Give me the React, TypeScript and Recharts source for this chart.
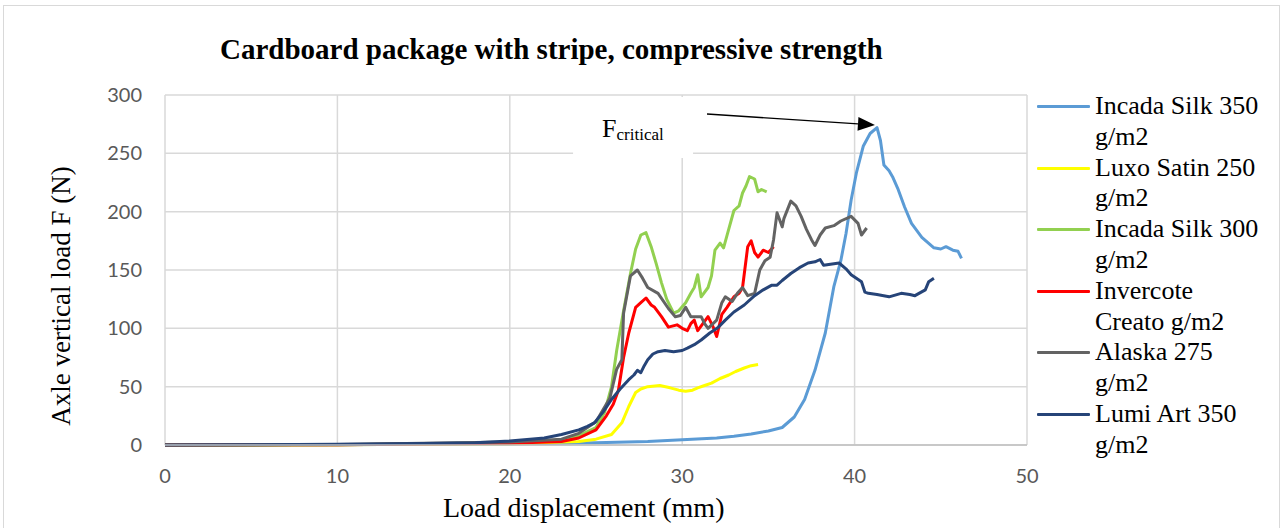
import React from "react";
import {
  LineChart,
  Line,
  XAxis,
  YAxis,
  CartesianGrid,
  ReferenceArea,
  ReferenceLine,
} from "recharts";

// displacement (mm), load (N)
const incadaSilk350: [number, number][] = [
  [0, 0], [10, 0.3], [20, 1], [25, 2], [28, 3], [30, 4.5], [32, 6], [33, 7.5],
  [34, 9.5], [35, 12], [35.8, 15], [36.5, 24], [37.1, 39], [37.7, 64], [38.3, 96],
  [38.8, 136], [39.2, 158], [39.5, 181], [39.8, 210], [40.1, 233], [40.5, 256],
  [40.9, 267], [41.3, 272], [41.5, 261], [41.7, 240], [42.0, 235], [42.2, 230],
  [42.5, 220], [42.9, 204], [43.3, 190], [43.9, 178], [44.6, 169], [45.0, 168],
  [45.3, 170], [45.7, 167], [46.0, 166], [46.2, 160],
];

const luxoSatin250: [number, number][] = [
  [0, 0], [10, 0.2], [20, 1], [24, 3], [25, 5], [25.9, 9], [26.5, 19], [26.9, 33],
  [27.3, 45], [27.6, 48], [28.0, 50], [28.7, 51], [29.3, 49], [29.8, 47], [30.2, 46],
  [30.6, 47], [30.9, 49], [31.3, 51], [31.7, 53], [32.2, 57], [32.7, 60], [33.1, 63],
  [33.6, 66], [34.0, 68], [34.4, 69],
];

const incadaSilk300: [number, number][] = [
  [0, 0], [10, 0.3], [20, 2], [23, 4], [24, 8], [25, 15], [25.5, 28], [25.9, 50],
  [26.2, 81], [26.6, 115], [27.0, 147], [27.3, 168], [27.6, 180], [27.9, 182],
  [28.2, 170], [28.5, 155], [28.8, 139], [29.1, 125], [29.5, 113], [29.8, 115],
  [30.2, 122], [30.5, 130], [30.7, 135], [30.9, 146], [31.1, 127], [31.5, 135],
  [31.7, 145], [31.9, 167], [32.2, 173], [32.4, 169], [32.7, 185], [33.0, 201],
  [33.3, 205], [33.5, 216], [33.7, 222], [33.9, 230], [34.2, 228], [34.4, 217],
  [34.6, 219], [34.9, 217],
];

const invercoteCreato: [number, number][] = [
  [0, 0], [10, 0.3], [20, 1.5], [23, 3], [24, 6], [25, 13], [25.6, 25], [26.0, 35],
  [26.3, 47], [26.6, 75], [26.9, 96], [27.3, 118], [27.6, 122], [27.9, 126],
  [28.2, 120], [28.4, 118], [28.8, 110], [29.2, 101], [29.7, 103], [30.0, 100],
  [30.3, 98], [30.5, 104], [30.7, 107], [30.9, 98], [31.2, 104], [31.5, 110],
  [31.8, 101], [32.0, 93], [32.3, 112], [32.6, 118], [33.0, 127], [33.3, 130],
  [33.5, 135], [33.8, 170], [34.0, 175], [34.2, 165], [34.4, 161], [34.7, 167],
  [35.0, 165], [35.3, 170],
];

const alaska275: [number, number][] = [
  [0, 0], [10, 0.5], [20, 2.5], [23, 5], [24, 10], [25, 20], [25.8, 40], [26.2, 65],
  [26.5, 73], [26.6, 113], [27.0, 145], [27.4, 150], [27.7, 143], [28.0, 135],
  [28.6, 130], [29.2, 117], [29.6, 110], [29.9, 111], [30.2, 118], [30.5, 110],
  [31.1, 110], [31.3, 104], [31.5, 100], [32.0, 107], [32.3, 122], [32.5, 127],
  [32.9, 123], [33.2, 130], [33.5, 135], [33.8, 128], [34.2, 130], [34.5, 150],
  [34.8, 158], [35.1, 161], [35.3, 176], [35.5, 199], [35.8, 187], [35.9, 194],
  [36.3, 209], [36.6, 205], [36.9, 196], [37.2, 185], [37.5, 176], [37.7, 171],
  [38.0, 180], [38.3, 186], [38.8, 188], [39.2, 192], [39.8, 196], [40.2, 190],
  [40.4, 180], [40.7, 186],
];

const lumiArt350: [number, number][] = [
  [0, 0], [5, 0.3], [10, 0.6], [15, 1.2], [18, 2], [20, 3.5], [22, 6], [23, 9],
  [24, 13], [24.5, 16], [24.9, 19], [25.4, 28], [25.9, 39], [26.4, 48], [26.9, 56],
  [27.2, 60], [27.4, 64], [27.6, 62], [27.8, 68], [28.0, 73], [28.3, 78], [28.6, 80],
  [29.0, 81], [29.5, 80], [30.0, 81], [30.3, 83], [30.7, 86], [31.1, 90], [31.6, 96],
  [32.1, 101], [32.5, 107], [33.0, 114], [33.6, 120], [34.2, 128], [34.7, 133],
  [35.2, 137], [35.5, 137], [35.8, 141], [36.3, 147], [36.8, 152], [37.3, 156],
  [37.7, 157], [38.0, 159], [38.2, 154], [38.6, 155], [39.1, 156], [39.5, 151],
  [39.8, 146], [40.1, 143], [40.4, 140], [40.6, 131], [40.8, 130], [41.3, 129],
  [42.0, 127], [42.7, 130], [43.2, 129], [43.5, 128], [44.1, 133], [44.3, 140],
  [44.6, 143],
];

const seriesNames = [
  "Incada Silk 350 g/m2",
  "Luxo Satin 250 g/m2",
  "Incada Silk 300 g/m2",
  "Invercote Creato g/m2",
  "Alaska 275 g/m2",
  "Lumi Art 350 g/m2",
];
const seriesColors = ["#5B9BD5", "#FFFF00", "#92D050", "#FF0000", "#636363", "#264478"];
const seriesData = [incadaSilk350, luxoSatin250, incadaSilk300, invercoteCreato, alaska275, lumiArt350];

const xTicks = [0, 10, 20, 30, 40, 50];
const yTicks = [0, 50, 100, 150, 200, 250, 300];

// F critical annotation (data units)
const labelBox = { x1: 23.67, x2: 30.63, y1: 246, y2: 298.3 };
const arrowFrom = { x: 31.44, y: 283.7 };
const arrowTo = { x: 41.18, y: 274.3 };

const serif = "'Liberation Serif', 'Times New Roman', serif";
const tickStyle = { fill: "#595959", fontSize: 20, fontFamily: "Lato, 'Open Sans', sans-serif" };

function Arrow(p: any) {
  const { x1, y1, x2, y2 } = p;
  const ang = Math.atan2(y2 - y1, x2 - x1);
  const len = 17;
  const half = 7;
  const bx = x2 - len * Math.cos(ang);
  const by = y2 - len * Math.sin(ang);
  const pts = [
    [x2, y2],
    [bx + half * Math.sin(ang), by - half * Math.cos(ang)],
    [bx - half * Math.sin(ang), by + half * Math.cos(ang)],
  ]
    .map((q) => q.join(","))
    .join(" ");
  return (
    <g>
      <line x1={x1} y1={y1} x2={bx} y2={by} stroke="#000" strokeWidth={1.3} />
      <polygon points={pts} fill="#000" />
    </g>
  );
}

function FLabel({ viewBox }: any) {
  if (!viewBox) return null;
  return (
    <text x={viewBox.x + 29} y={viewBox.y + 40} fontFamily={serif} fill="#000">
      <tspan fontSize={26}>F</tspan>
      <tspan fontSize={17} dy={3}>critical</tspan>
    </text>
  );
}

export default function App() {
  return (
    <div
      style={{
        position: "absolute",
        left: 0,
        top: 0,
        width: 1288,
        height: 528,
        background: "#fff",
        overflow: "hidden",
      }}
    >
      <div
        style={{
          position: "absolute",
          left: 3,
          top: 5,
          width: 1275,
          height: 540,
          border: "1px solid #d9d9d9",
        }}
      />
      <LineChart
        width={1288}
        height={528}
        margin={{ top: 95, right: 261, bottom: 43, left: 105 }}
        style={{ position: "absolute", left: 0, top: 0 }}
      >
        <CartesianGrid stroke="#d9d9d9" strokeWidth={1.5} />
        <XAxis
          dataKey="mm"
          type="number"
          domain={[0, 50]}
          ticks={xTicks}
          tick={tickStyle}
          tickLine={false}
          tickMargin={18}
          axisLine={{ stroke: "#bfbfbf", strokeWidth: 1.5 }}
          height={40}
        />
        <YAxis
          type="number"
          domain={[0, 300]}
          ticks={yTicks}
          tick={tickStyle}
          tickLine={false}
          tickMargin={17}
          axisLine={false}
          width={60}
        />
        <ReferenceArea
          x1={labelBox.x1}
          x2={labelBox.x2}
          y1={labelBox.y1}
          y2={labelBox.y2}
          fill="#fff"
          fillOpacity={1}
          stroke="none"
          label={<FLabel />}
        />
        {seriesData.map((pairs, i) => (
          <Line
            key={seriesNames[i]}
            data={pairs.map(([mm, load]) => ({ mm, load }))}
            dataKey="load"
            name={seriesNames[i]}
            type="linear"
            stroke={seriesColors[i]}
            strokeWidth={3}
            strokeLinejoin="round"
            dot={false}
            activeDot={false}
            isAnimationActive={false}
          />
        ))}
        <ReferenceLine
          segment={[arrowFrom, arrowTo]}
          ifOverflow="visible"
          shape={<Arrow />}
        />
      </LineChart>

      <svg
        width={1288}
        height={528}
        style={{ position: "absolute", left: 0, top: 0, pointerEvents: "none" }}
      >
        <text x={220} y={59} fontFamily={serif} fontWeight="bold" fontSize={29} fill="#000">
          Cardboard package with stripe, compressive strength
        </text>
        <text
          transform="translate(70,296) rotate(-90)"
          textAnchor="middle"
          fontFamily={serif}
          fontSize={27}
          fill="#000"
        >
          Axle vertical load F (N)
        </text>
        <text x={443} y={517} fontFamily={serif} fontSize={28} fill="#000">
          Load displacement (mm)
        </text>
      </svg>

      <div style={{ position: "absolute", left: 1037, top: 91 }}>
        {seriesNames.map((name, i) => (
          <div key={name} style={{ display: "flex", alignItems: "flex-start" }}>
            <div
              style={{
                width: 53,
                height: 3,
                marginTop: 14,
                marginRight: 5,
                background: seriesColors[i],
                borderRadius: 1,
              }}
            />
            <div
              style={{
                width: 172,
                fontFamily: serif,
                fontSize: 26,
                lineHeight: "30.8px",
                color: "#000",
              }}
            >
              {name}
            </div>
          </div>
        ))}
      </div>
    </div>
  );
}
